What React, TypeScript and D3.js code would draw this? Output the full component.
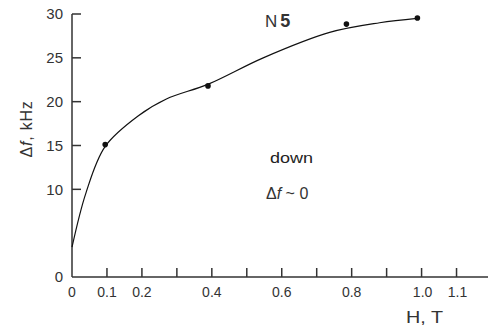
import React from "react";
import * as d3 from "d3";

// measured points (H in T, Δf in kHz)
const pointsH = [0.095, 0.389, 0.785, 0.988];
const pointsDf = [15.1, 21.8, 28.85, 29.55];

// fitted curve
const curveH = [0, 0.04, 0.095, 0.19, 0.27, 0.39, 0.547, 0.737, 0.88, 0.987];
const curveDf = [3.4, 9.6, 14.9, 18.4, 20.3, 22.0, 25.0, 27.9, 29.0, 29.5];

const yTicks = [0, 10, 15, 20, 25, 30];
const xTicks = [0.1, 0.2, 0.3, 0.4, 0.5, 0.6, 0.7, 0.8, 0.9, 1.0, 1.1];
const xLabels = [0, 0.1, 0.2, 0.4, 0.6, 0.8, 1.0, 1.1];

const W = 489;
const H = 327;
const font = "'Liberation Sans', Arial, sans-serif";
const ink = "#333";

export default function App() {
  const x = d3.scaleLinear().domain([0, 1.19]).range([72, 488]);
  const y = d3.scaleLinear().domain([0, 30]).range([277, 14]);

  const line = d3
    .line<number>()
    .x((_, i) => x(curveH[i]))
    .y((d) => y(d))
    .curve(d3.curveCatmullRom.alpha(0.5));

  return (
    <svg
      width={W}
      height={H}
      style={{ position: "absolute", left: 0, top: 0, background: "#fff" }}
      fontFamily={font}
    >
      {/* axes */}
      <line x1={x(0)} x2={x(0)} y1={y(30)} y2={y(0)} stroke={ink} strokeWidth={1.5} />
      <line x1={x(0)} x2={x(1.19)} y1={y(0)} y2={y(0)} stroke={ink} strokeWidth={1.5} />

      {yTicks.filter((t) => t > 0).map((t) => (
        <line key={t} x1={x(0)} x2={x(0) + 9} y1={y(t)} y2={y(t)} stroke={ink} strokeWidth={1.5} />
      ))}
      {yTicks.map((t) => (
        <text key={t} x={63} y={y(t)} dy="0.36em" textAnchor="end" fontSize={15} fill={ink}>
          {t}
        </text>
      ))}

      {xTicks.map((t) => (
        <line key={t} x1={x(t)} x2={x(t)} y1={y(0)} y2={y(0) - 9} stroke={ink} strokeWidth={1.5} />
      ))}
      {xLabels.map((t) => (
        <text key={t} x={x(t) + (t >= 1 ? 1 : 0)} y={297} textAnchor="middle" fontSize={14} fill={ink}>
          {t === 0 ? "0" : t.toFixed(1)}
        </text>
      ))}

      <text x={406} y={323} fontSize={16} textLength={37} lengthAdjust="spacingAndGlyphs" fill={ink}>
        H, T
      </text>
      <text
        transform="translate(32,129) rotate(-90)"
        textAnchor="middle"
        fontSize={16}
        letterSpacing={0.8}
        fill={ink}
      >
        Δ<tspan fontStyle="italic">f</tspan>, kHz
      </text>

      {/* curve and points */}
      <path d={line(curveDf) ?? ""} fill="none" stroke="#111" strokeWidth={1.2} />
      {pointsH.map((h, i) => (
        <circle key={i} cx={x(h)} cy={y(pointsDf[i])} r={2.8} fill="#111" />
      ))}

      {/* annotations */}
      <text x={265} y={27} fontSize={17} fill={ink}>
        N<tspan fontWeight="bold" fontSize={18} dx={3}>5</tspan>
      </text>
      <text x={270} y={163} fontSize={14} textLength={43} lengthAdjust="spacingAndGlyphs" fill="#222">
        down
      </text>
      <text x={266} y={199} fontSize={16} fill={ink}>
        Δ<tspan fontStyle="italic">f</tspan> ~ 0
      </text>
    </svg>
  );
}
